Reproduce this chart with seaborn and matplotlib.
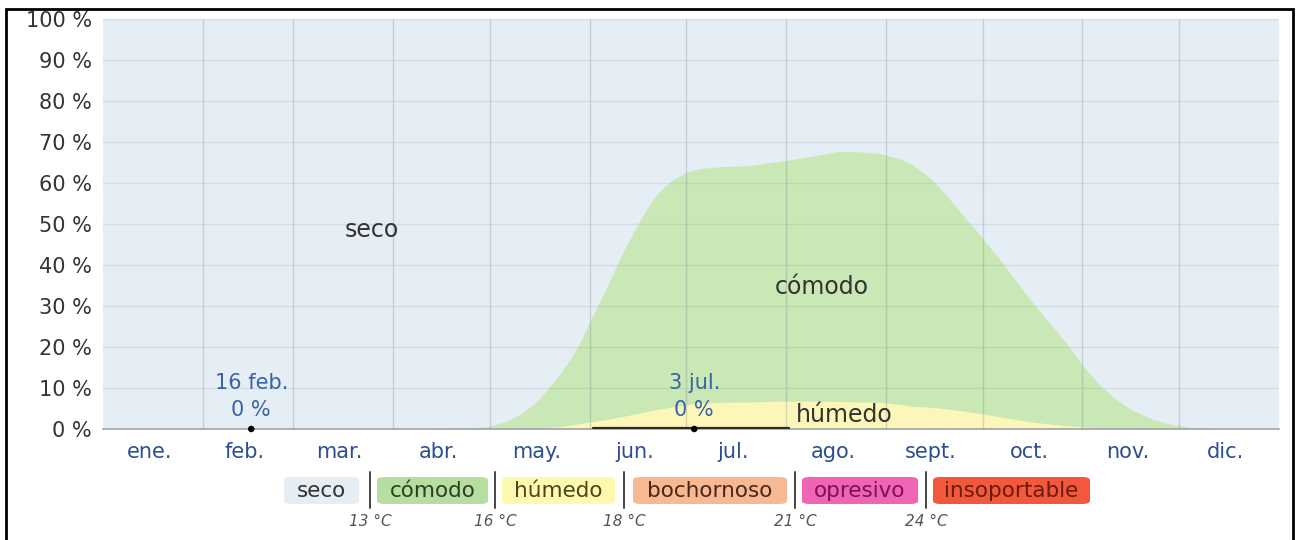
import matplotlib
matplotlib.use("Agg")
import matplotlib.pyplot as plt
import matplotlib.patches as mpatches
from matplotlib.lines import Line2D
import pandas as pd
import seaborn as sns

# -----------------------------------------------------------------------------
# datos (dia del año, % del tiempo)
meses = ["ene.", "feb.", "mar.", "abr.", "may.", "jun.",
         "jul.", "ago.", "sept.", "oct.", "nov.", "dic."]
inicio_mes = [0, 31, 59, 90, 120, 151, 181, 212, 243, 273, 304, 334, 365]

dias = [0, 100, 110, 115, 120, 125, 130, 135, 141, 145, 148, 151, 156, 161,
        166, 170, 173, 177, 181, 185, 192, 200, 210, 220, 228, 235, 241, 247,
        251, 257, 262, 266, 273, 278, 288, 299, 304, 309, 314, 319, 325, 330,
        338, 345, 365]
comodo_pct = [0, 0, 0.1, 0.3, 0.7, 1.8, 3.7, 6.8, 12.0, 16.1, 19.7, 24.3, 31.7,
              39.5, 46.2, 50.8, 53.3, 55.4, 56.7, 57.2, 57.5, 57.6, 58.5, 59.7,
              61.0, 61.0, 60.7, 60.0, 59.0, 55.7, 51.9, 48.5, 42.8, 38.7, 29.6,
              20.1, 15.1, 10.7, 7.4, 4.8, 2.6, 1.4, 0.3, 0, 0]
humedo_pct = [0, 0, 0, 0, 0, 0, 0.1, 0.2, 0.5, 0.9, 1.3, 1.7, 2.3, 3.0, 3.8,
              4.5, 4.9, 5.4, 5.9, 6.3, 6.5, 6.6, 6.8, 6.8, 6.7, 6.6, 6.5, 6.0,
              5.6, 5.3, 4.9, 4.5, 3.7, 3.0, 1.7, 0.8, 0.5, 0.3, 0.1, 0, 0, 0,
              0, 0, 0]
bochornoso_dias = [152, 165, 180, 195, 213]
bochornoso_pct = [0.2, 0.2, 0.2, 0.2, 0.2]

# fechas marcadas (dia, valor)
marcas = ["16 feb.", "3 jul."]
marcas_dia = [46, 183.5]
marcas_pct = [0, 0]

categorias = ["seco", "cómodo", "húmedo", "bochornoso", "opresivo", "insoportable"]
umbrales = ["13 °C", "16 °C", "18 °C", "21 °C", "24 °C"]

# -----------------------------------------------------------------------------
c_seco = "#e6eef5"
c_comodo = "#c9e8b5"
c_humedo = "#fcf7b8"
leyenda_fondo = ["#e6edf3", "#b5dea0", "#fdf9ad", "#f7b994", "#ef64b4", "#f2583c"]
leyenda_texto = ["#333333", "#2f3d25", "#4a4520", "#4a2616", "#7d1158", "#6b1a0c"]

sns.set_theme(style="white")
plt.rcParams["font.family"] = ["DejaVu Sans"]

W, H = 1298, 540
fig = plt.figure(figsize=(W / 100, H / 100), dpi=100)
ax = fig.add_axes([103 / W, 1 - 429 / H, 1176 / W, 410 / H])
ax.set_facecolor(c_seco)

df = pd.DataFrame({"dia": dias, "comodo": comodo_pct, "humedo": humedo_pct})
df["tope"] = df["comodo"] + df["humedo"]

ax.fill_between(df["dia"], 0, df["tope"], color=c_comodo, lw=0, zorder=2)
ax.fill_between(df["dia"], 0, df["humedo"], color=c_humedo, lw=0, zorder=3)
sns.lineplot(x=bochornoso_dias, y=bochornoso_pct, color="#2b2b2b", lw=1.6,
             ax=ax, zorder=6)

# rejilla
for d in inicio_mes[1:-1]:
    ax.axvline(d, color="#7d8590", alpha=0.3, lw=1, zorder=5)
for v in range(10, 101, 10):
    ax.axhline(v, color="#9aa2aa", alpha=0.22, lw=1, zorder=5)

ax.set_xlim(0, 365)
ax.set_ylim(0, 100)
ax.set_yticks(range(0, 101, 10))
ax.set_yticklabels([f"{v} %" for v in range(0, 101, 10)], color="#333333",
                   fontsize=15)
centros = [(inicio_mes[i] + inicio_mes[i + 1]) / 2 - 1 for i in range(12)]
ax.set_xticks(centros)
ax.set_xticklabels(meses, color="#2d4f8e", fontsize=15)
ax.tick_params(axis="x", length=0, pad=9)
ax.tick_params(axis="y", length=0, pad=8)
for s in ["top", "left", "right"]:
    ax.spines[s].set_visible(False)
ax.spines["bottom"].set_color("#a0a4a8")
ax.spines["bottom"].set_linewidth(1.2)
ax.spines["bottom"].set_zorder(4)

# etiquetas de zonas
ax.text(83.5, 48.5, "seco", ha="center", va="center", fontsize=17, color="#333333", zorder=7)
ax.text(223, 34.6, "cómodo", ha="center", va="center", fontsize=17, color="#333333", zorder=7)
ax.text(230, 3.4, "húmedo", ha="center", va="center", fontsize=17, color="#333333", zorder=7)

# marcas de fecha
sns.scatterplot(x=marcas_dia, y=marcas_pct, color="black", s=22, ax=ax,
                zorder=8, clip_on=False, edgecolor="none")
for nombre, d, p in zip(marcas, marcas_dia, marcas_pct):
    ax.annotate(nombre, (d, p), xytext=(0, 46), textcoords="offset pixels",
                ha="center", va="center", fontsize=15, color="#3762a8", zorder=8)
    ax.annotate(f"{p:g} %", (d, p), xytext=(0, 19), textcoords="offset pixels",
                ha="center", va="center", fontsize=15, color="#3762a8", zorder=8)

# leyenda inferior
cajas = [(284, 359), (377, 488), (502, 615), (633, 787), (802, 918), (933, 1090)]
for (x0, x1), nombre, fc, tc in zip(cajas, categorias, leyenda_fondo, leyenda_texto):
    caja = mpatches.FancyBboxPatch((x0 / W, 1 - 504 / H), (x1 - x0) / W, 27 / H,
                                   boxstyle="round,pad=0,rounding_size=0.006",
                                   transform=fig.transFigure, fc=fc, ec="none")
    fig.add_artist(caja)
    fig.text((x0 + x1) / 2 / W, 1 - 491 / H, nombre, ha="center", va="center",
             fontsize=15.5, color=tc)

separadores = [370, 495, 624, 795, 926]
for xs, t in zip(separadores, umbrales):
    fig.add_artist(Line2D([xs / W, xs / W], [1 - 472 / H, 1 - 508 / H],
                          transform=fig.transFigure, color="#444444", lw=1.4))
    fig.text(xs / W, 1 - 521 / H, t, ha="center", va="center", fontsize=11,
             style="italic", color="#555555")

# marco exterior
fig.add_artist(mpatches.Rectangle((6 / W, -0.02), (1293 - 6) / W, 1.02 - 9 / H,
                                  transform=fig.transFigure, fill=False,
                                  ec="black", lw=2, zorder=20))

fig.savefig("out.png", dpi=100)
